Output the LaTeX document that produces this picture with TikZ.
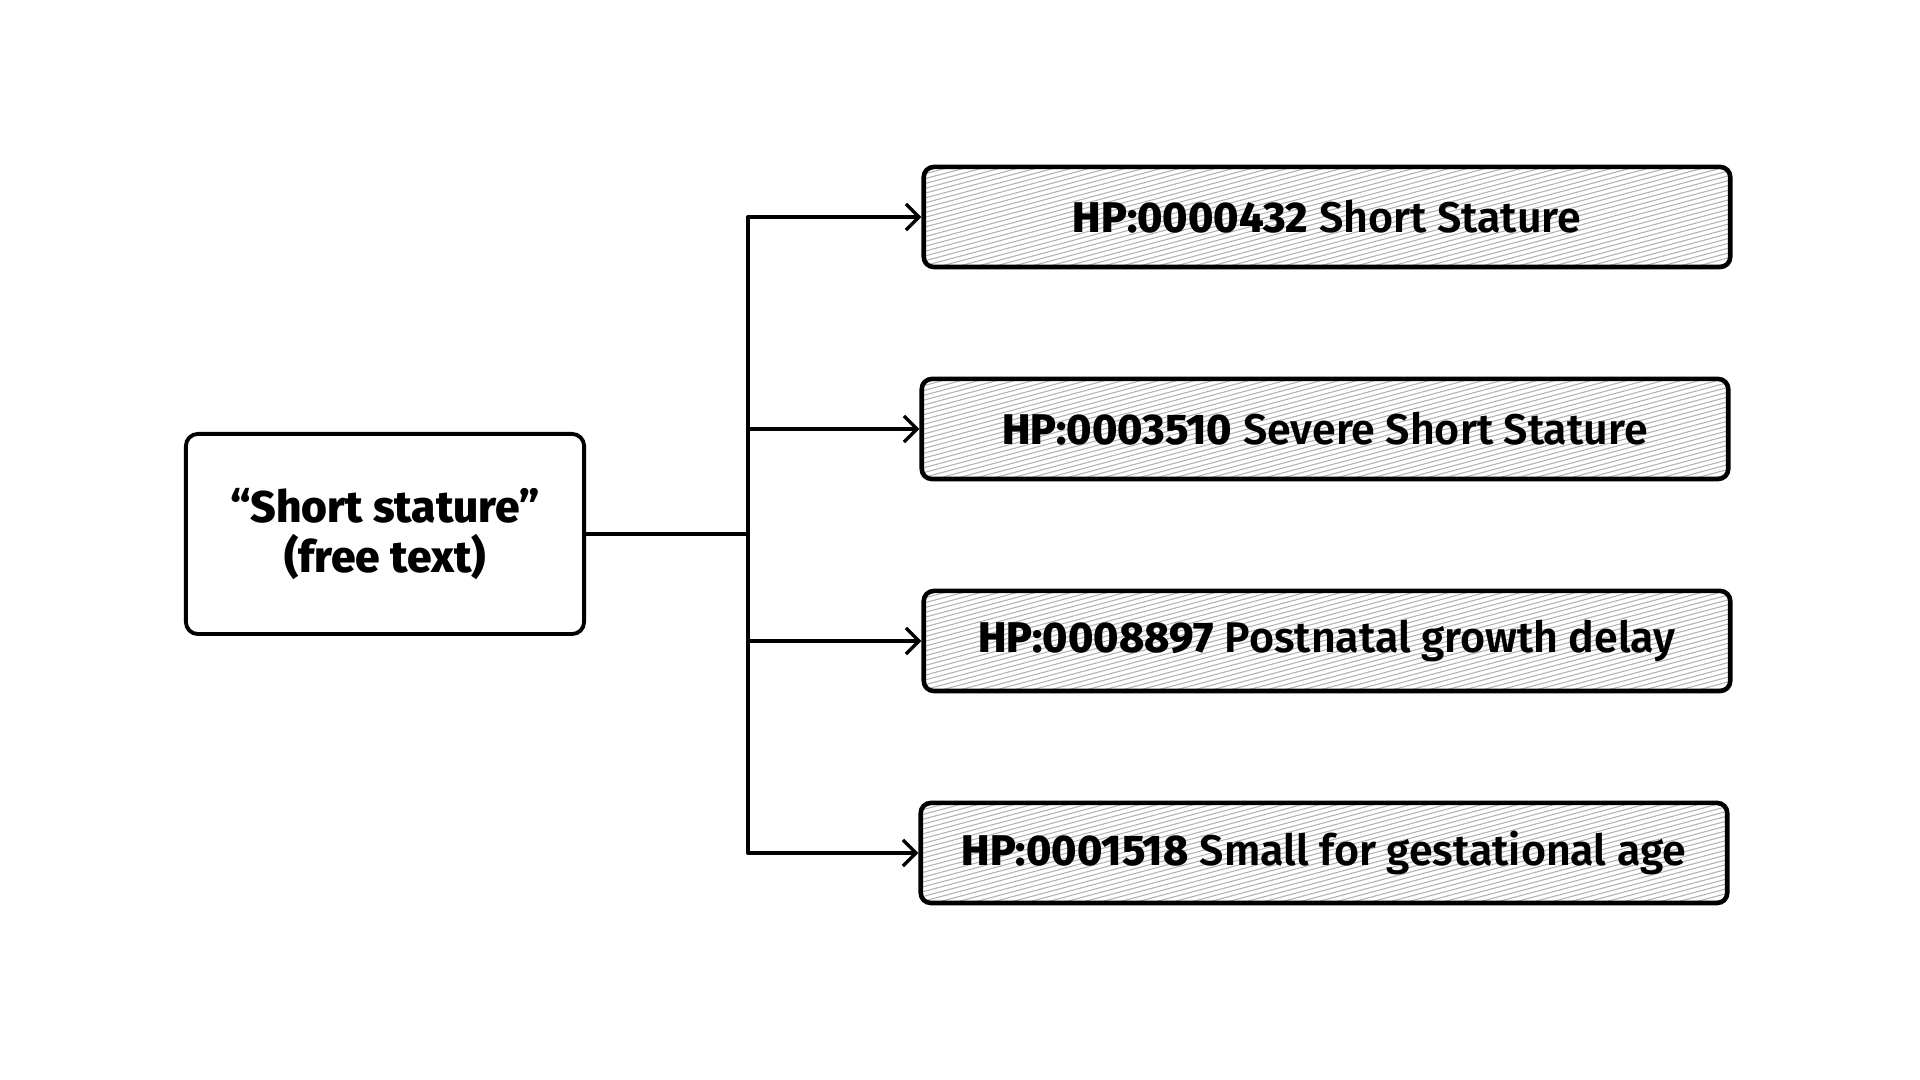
\documentclass[tikz,border=0pt]{standalone}
\usepackage{fontspec}
\setmainfont{Fira Sans}[BoldFont=Fira Sans ExtraBold]
\newfontfamily\semifont{Fira Sans SemiBold}
\usetikzlibrary{arrows.meta,positioning}

\begin{document}
\begin{tikzpicture}[x=0.01cm, y=-0.01cm, line cap=round, line join=round,
  every node/.style={font=\fontsize{12.2}{14}\selectfont},
  link/.style={line width=1pt},
  freebox/.style={draw, line width=1.1pt, rounded corners=0.12cm, minimum width=3.98cm, minimum height=2cm, align=center, font=\fontsize{12.6}{14.4}\selectfont\bfseries},
  hpbox/.style={draw, line width=1.3pt, rounded corners=0.1cm, minimum width=8.06cm, minimum height=1cm,
    path picture={\foreach \t in {-4.00,-3.82,...,8.2}
      \draw[black!30, line width=0.3pt] ([xshift=\t cm]path picture bounding box.south west) -- ++(3.73cm,1cm);}}]
  \useasboundingbox (0,0) rectangle (1920,1080);

  \node[freebox] (free) at (385,534) {“Short stature”\\(free text)};

  \node[hpbox] (hp1) at (1327,217) {{\bfseries HP:0000432} {\semifont Short Stature}};
  \node[hpbox] (hp2) at (1325,429) {{\bfseries HP:0003510} {\semifont Severe Short Stature}};
  \node[hpbox] (hp3) at (1327,641) {{\bfseries HP:0008897} {\semifont Postnatal growth delay}};
  \node[hpbox] (hp4) at (1324,853) {{\bfseries HP:0001518} {\semifont Small for gestational age}};

  \coordinate (spine) at (748,534);

  \draw[link] (free.east) -- (spine);
  \draw[link] (spine |- hp1) -- (spine |- hp4);
  \foreach \n in {hp1,hp2,hp3,hp4}
    \draw[link, -{Straight Barb[length=0.13cm, width=0.26cm]}] (spine |- \n) -- (\n.west);
\end{tikzpicture}
\end{document}
